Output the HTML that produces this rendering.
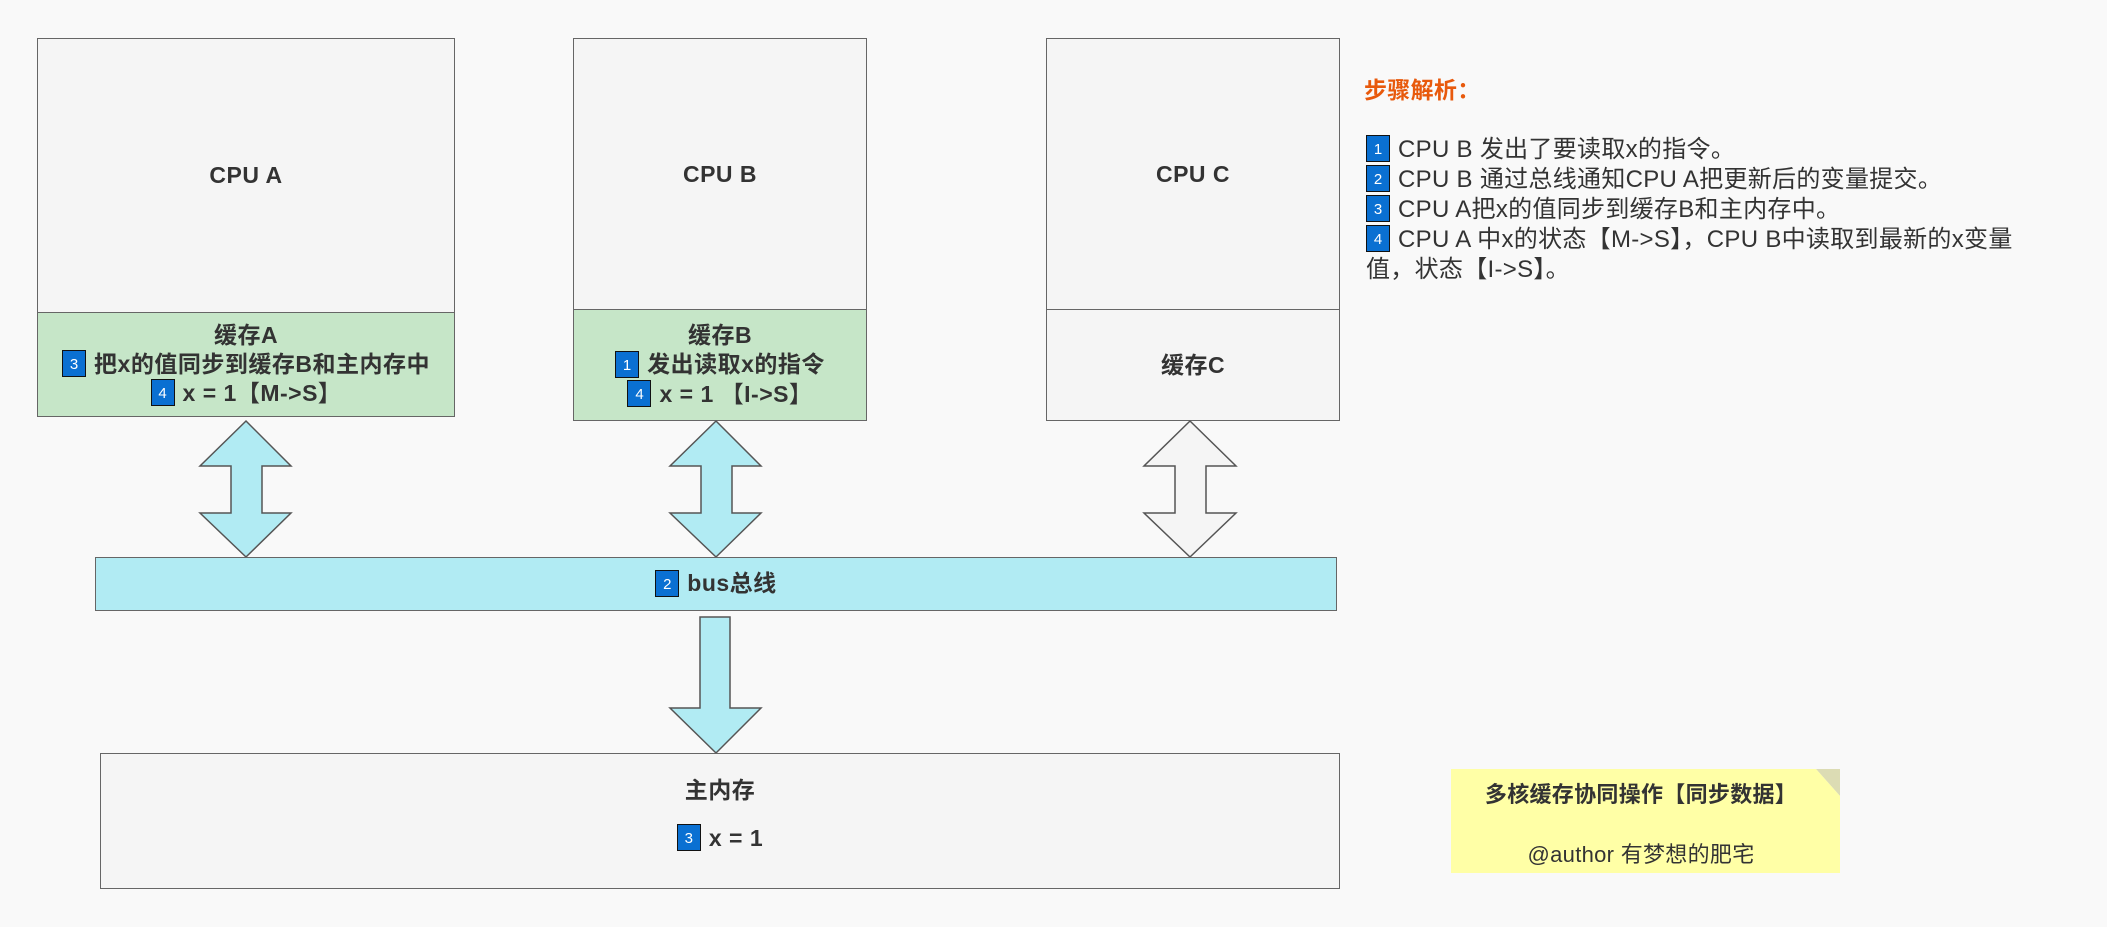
<!DOCTYPE html>
<html><head><meta charset="utf-8"><style>
body{margin:0;width:2107px;height:927px;background:#f9f9f9;position:relative;overflow:hidden;font-family:"Liberation Sans","Noto Sans CJK SC",sans-serif;color:#333}
.b{position:absolute;box-sizing:border-box;border:1.5px solid #666;background:#f5f5f5;display:flex;flex-direction:column;align-items:center;justify-content:center;font-weight:bold;font-size:23px;letter-spacing:0.5px;line-height:29px;text-align:center;white-space:nowrap}
.g{background:#c6e6c8}
.n{display:inline-block;width:24px;height:27px;line-height:27px;background:#0a70d2;color:#fff;font-size:15px;font-weight:normal;border:1.5px solid #111;box-sizing:border-box;text-align:center;vertical-align:middle;margin-right:8px;position:relative;top:-2px;letter-spacing:0}
.t{position:absolute;font-size:24px;line-height:30px;letter-spacing:0.3px;white-space:nowrap}
</style></head><body>
<div class="b" style="left:37px;top:38px;width:418px;height:275px">CPU A</div>
<div class="b g" style="left:37px;top:312px;width:418px;height:105px"><div>缓存A</div><div><span class="n">3</span>把x的值同步到缓存B和主内存中</div><div><span class="n">4</span>x = 1【M-&gt;S】</div></div>
<div class="b" style="left:573px;top:38px;width:294px;height:272px">CPU B</div>
<div class="b g" style="left:573px;top:309px;width:294px;height:112px"><div>缓存B</div><div><span class="n">1</span>发出读取x的指令</div><div><span class="n">4</span>x = 1 【I-&gt;S】</div></div>
<div class="b" style="left:1046px;top:38px;width:294px;height:272px">CPU C</div>
<div class="b" style="left:1046px;top:309px;width:294px;height:112px">缓存C</div>
<svg style="position:absolute;left:0;top:0" width="2107" height="927">
<g stroke="#555" stroke-width="1.5">
<polygon fill="#b1ebf3" points="246,421 291,466 262,466 262,513 291,513 246,557 200,513 231,513 231,466 200,466"/>
<polygon fill="#b1ebf3" points="716,421 761,466 732,466 732,513 761,513 716,557 670,513 701,513 701,466 670,466"/>
<polygon fill="#f5f5f5" points="1190,421 1236,466 1206,466 1206,513 1236,513 1190,557 1144,513 1175,513 1175,466 1144,466"/>
<polygon fill="#b1ebf3" points="700,617 730,617 730,708 761,708 716,753 670,708 700,708"/>
<polygon fill="#dcdcb4" stroke="none" points="1816,769 1840,796 1840,769"/>
</g>
</svg>
<div class="b" style="left:95px;top:557px;width:1242px;height:54px;background:#b1ebf3"><div><span class="n">2</span>bus总线</div></div>
<div class="b" style="left:100px;top:753px;width:1240px;height:136px;justify-content:flex-start;padding-top:22px"><div>主内存</div><div style="margin-top:19px"><span class="n">3</span>x = 1</div></div>
<div style="position:absolute;left:1451px;top:769px;width:389px;height:104px;background:#ffffa6;clip-path:polygon(0 0,365px 0,389px 27px,389px 104px,0 104px)"></div>
<div class="t" style="left:1451px;top:780px;width:380px;text-align:center;font-weight:bold;font-size:22px">多核缓存协同操作【同步数据】</div>
<div class="t" style="left:1451px;top:840px;width:380px;text-align:center;font-size:22px">@author 有梦想的肥宅</div>
<div class="t" style="left:1364px;top:75px;color:#e8590c;font-weight:bold;font-size:23px">步骤解析：</div>
<div class="t" style="left:1366px;top:135px;width:700px">
<div><span class="n">1</span>CPU B 发出了要读取x的指令。</div>
<div><span class="n">2</span>CPU B 通过总线通知CPU A把更新后的变量提交。</div>
<div><span class="n">3</span>CPU A把x的值同步到缓存B和主内存中。</div>
<div><span class="n">4</span>CPU A 中x的状态【M-&gt;S】，CPU B中读取到最新的x变量<br>值，状态【I-&gt;S】。</div>
</div>
</body></html>
